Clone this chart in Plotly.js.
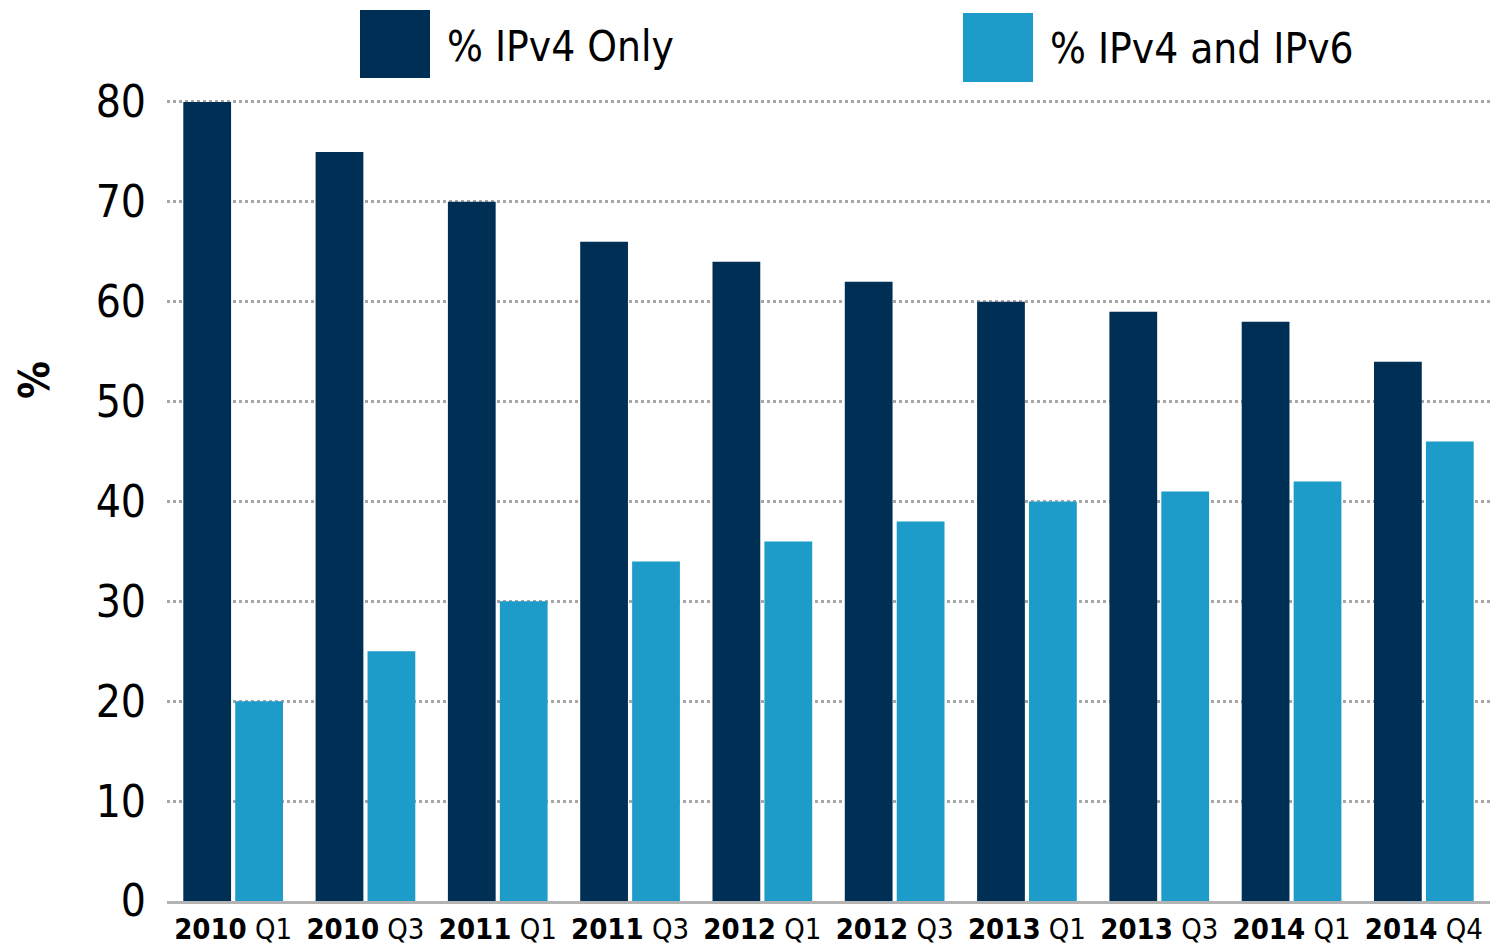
<!DOCTYPE html>
<html>
<head>
<meta charset="utf-8">
<script src="https://cdn.plot.ly/plotly-3.0.1.min.js"></script>
<style>
html,body{margin:0;padding:0;background:#fff;}
#chart{width:1490px;height:950px;}
#chart svg text{font-stretch:condensed !important;}
</style>
</head>
<body>
<div id="chart"></div>
<script>
var years = ["2010","2010","2011","2011","2012","2012","2013","2013","2014","2014"];
var quarters = ["Q1","Q3","Q1","Q3","Q1","Q3","Q1","Q3","Q1","Q4"];
var seriesNames = ["% IPv4 Only", "% IPv4 and IPv6"];
var ipv4Only = [80,75,70,66,64,62,60,59,58,54];
var ipv4And6 = [20,25,30,34,36,38,40,41,42,46];
var yTicks = [0,10,20,30,40,50,60,70,80];

var FONT = '"DejaVu Sans Condensed","DejaVu Sans",sans-serif';
var W = 1490, H = 950;
var M = {l:167, r:0, t:92, b:49};
var pw = W - M.l - M.r, ph = H - M.t - M.b;
function px(x){ return (x - M.l) / pw; }
function py(y){ return (H - M.b - y) / ph; }

var cats = years.map(function(y,i){ return y + " " + quarters[i]; });
var tickText = years.map(function(y,i){ return "<b>" + y + "</b> " + quarters[i]; });
var colors = ["#002f56", "#1d9bc9"];

var traces = [
  {type:"bar", name:seriesNames[0], x:cats, y:ipv4Only, marker:{color:colors[0]}, showlegend:false, hoverinfo:"x+y"},
  {type:"bar", name:seriesNames[1], x:cats, y:ipv4And6, marker:{color:colors[1]}, showlegend:false, hoverinfo:"x+y"}
];

var layout = {
  width:W, height:H,
  margin:M,
  paper_bgcolor:"#fff", plot_bgcolor:"#fff",
  barmode:"group", bargap:0.215, bargroupgap:0.08,
  font:{family:FONT, color:"#000"},
  xaxis:{
    type:"category", tickvals:cats, ticktext:tickText, tickangle:0,
    tickfont:{size:29, family:FONT, color:"#000"},
    showgrid:false, zeroline:false, showline:true, linecolor:"#b3b3b3", linewidth:3,
    ticks:"", ticklabelstandoff:0
  },
  yaxis:{
    range:[0,81], tickvals:yTicks,
    tickfont:{size:44, family:FONT, color:"#000"},
    showgrid:true, gridcolor:"#a6a6a6", gridwidth:3, griddash:"dot",
    zeroline:false, showline:false, ticks:"", ticklabelstandoff:20
  },
  shapes:[
    {type:"rect", xref:"paper", yref:"paper", x0:px(360), x1:px(430), y0:py(78), y1:py(10), fillcolor:colors[0], line:{width:0}},
    {type:"rect", xref:"paper", yref:"paper", x0:px(963), x1:px(1033), y0:py(82), y1:py(13), fillcolor:colors[1], line:{width:0}}
  ],
  annotations:[
    {xref:"paper", yref:"paper", x:px(445), y:py(46), xanchor:"left", yanchor:"middle", text:seriesNames[0], showarrow:false, font:{size:42, family:FONT, color:"#000"}},
    {xref:"paper", yref:"paper", x:px(1048), y:py(49), xanchor:"left", yanchor:"middle", text:seriesNames[1], showarrow:false, font:{size:42, family:FONT, color:"#000"}},
    {xref:"paper", yref:"paper", x:px(35), y:py(380), xanchor:"center", yanchor:"middle", text:"<b>%</b>", textangle:-90, showarrow:false, font:{size:42, family:FONT, color:"#000"}}
  ]
};

Plotly.newPlot("chart", traces, layout, {displayModeBar:false, staticPlot:true});
</script>
</body>
</html>
